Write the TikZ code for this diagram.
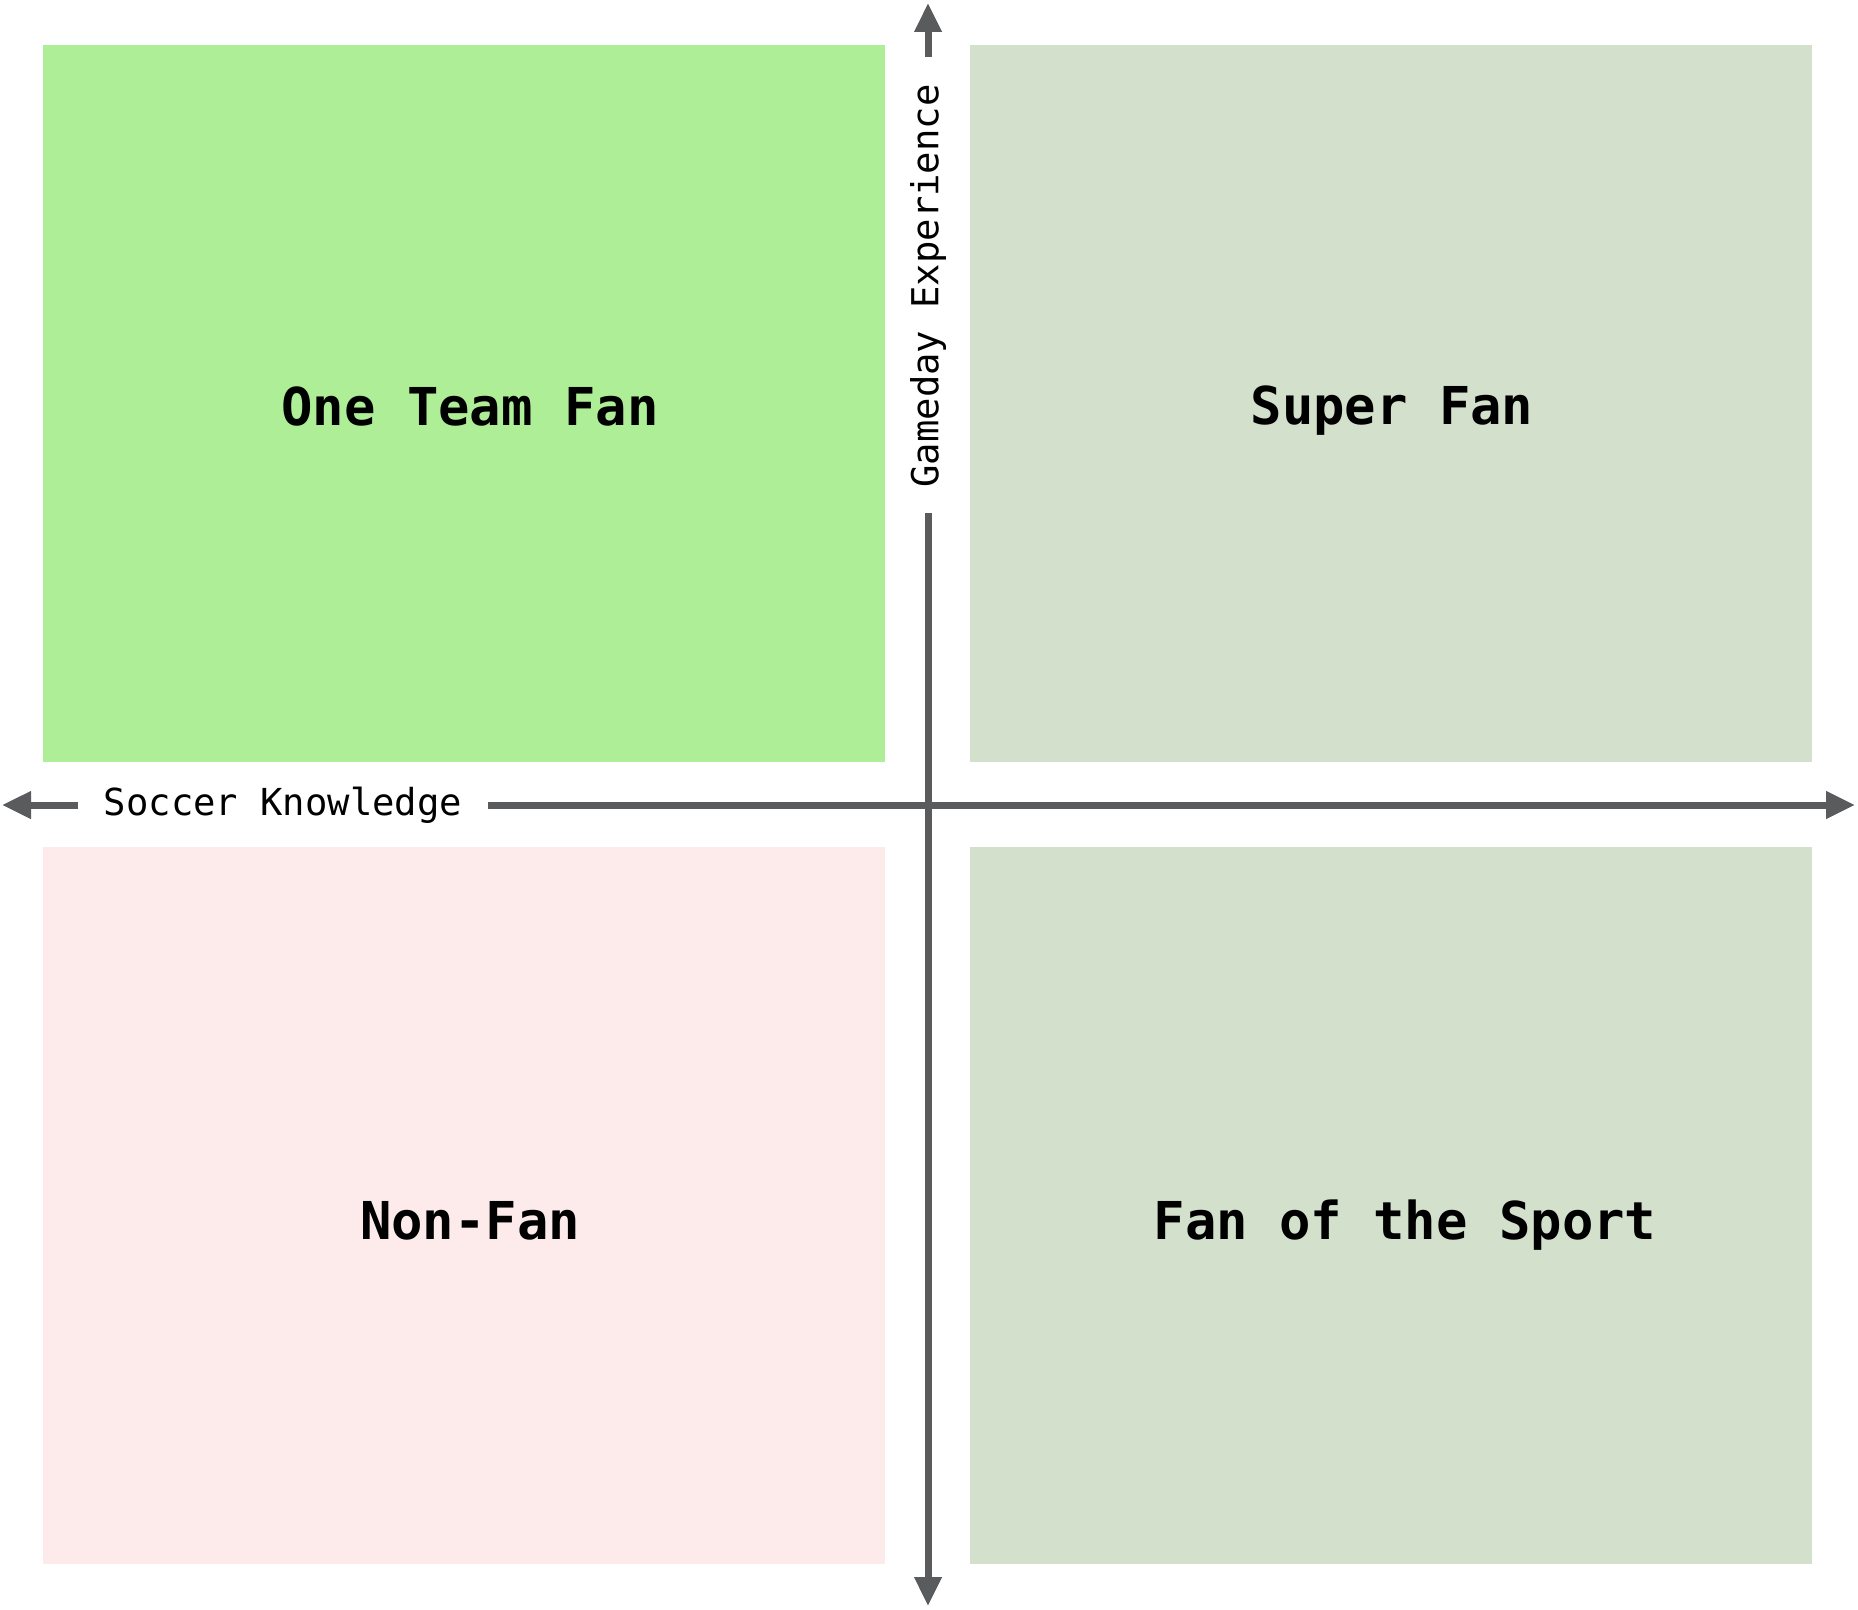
\documentclass[tikz,border=0pt]{standalone}
\usepackage{fontspec}
\setmainfont{DejaVu Sans Mono}
\usetikzlibrary{arrows.meta}
\definecolor{qgreen}{HTML}{ADEE97}
\definecolor{qsage}{HTML}{D3E1CC}
\definecolor{qpink}{HTML}{FDEBEB}
\definecolor{axisgray}{HTML}{5A5B5D}
\tikzset{
  quad/.style={rectangle, inner sep=0pt, minimum width=842*0.5pt, minimum height=717*0.5pt},
  quadlbl/.style={inner sep=0pt, font=\fontsize{26.1pt}{30pt}\selectfont\bfseries, text=black},
  axis/.style={draw=axisgray, line width=3.5pt, -{Triangle[length=14.5pt,width=13pt]}},
  axislbl/.style={inner sep=0pt, font=\fontsize{18.6pt}{22pt}\selectfont, text=black}
}
\begin{document}
\begin{tikzpicture}[x=0.5pt,y=-0.5pt]
\useasboundingbox (0,0) rectangle (1858,1610);
\node[quad, fill=qgreen] (otf) at (464,403.5) {};
\node[quad, fill=qsage] (sf) at (1391,403.5) {};
\node[quad, fill=qpink] (nf) at (464,1205.5) {};
\node[quad, fill=qsage] (fs) at (1391,1205.5) {};
\node[quadlbl] (otfl) at (470,406) {One Team Fan};
\node[quadlbl] (sfl) at (1392,411) {Super Fan};
\node[quadlbl] (nfl) at (470,1221) {Non-Fan};
\node[quadlbl] (fsl) at (1405,1225) {Fan of the Sport};
\node[axislbl] (xl) at (283,805) {Soccer Knowledge};
\node[axislbl, rotate=90] (yl) at (928,286) {Gameday Experience};
\coordinate (xl0) at (78,805);
\coordinate (xtipL) at (2,805);
\coordinate (xr0) at (488,805);
\coordinate (xtipR) at (1855,805);
\coordinate (yt0) at (928,57);
\coordinate (ytipT) at (928,3);
\coordinate (yb0) at (928,513);
\coordinate (ytipB) at (928,1606);
\draw[axis] (xl0) -- (xtipL);
\draw[axis] (xr0) -- (xtipR);
\draw[axis] (yt0) -- (ytipT);
\draw[axis] (yb0) -- (ytipB);
\end{tikzpicture}
\end{document}
